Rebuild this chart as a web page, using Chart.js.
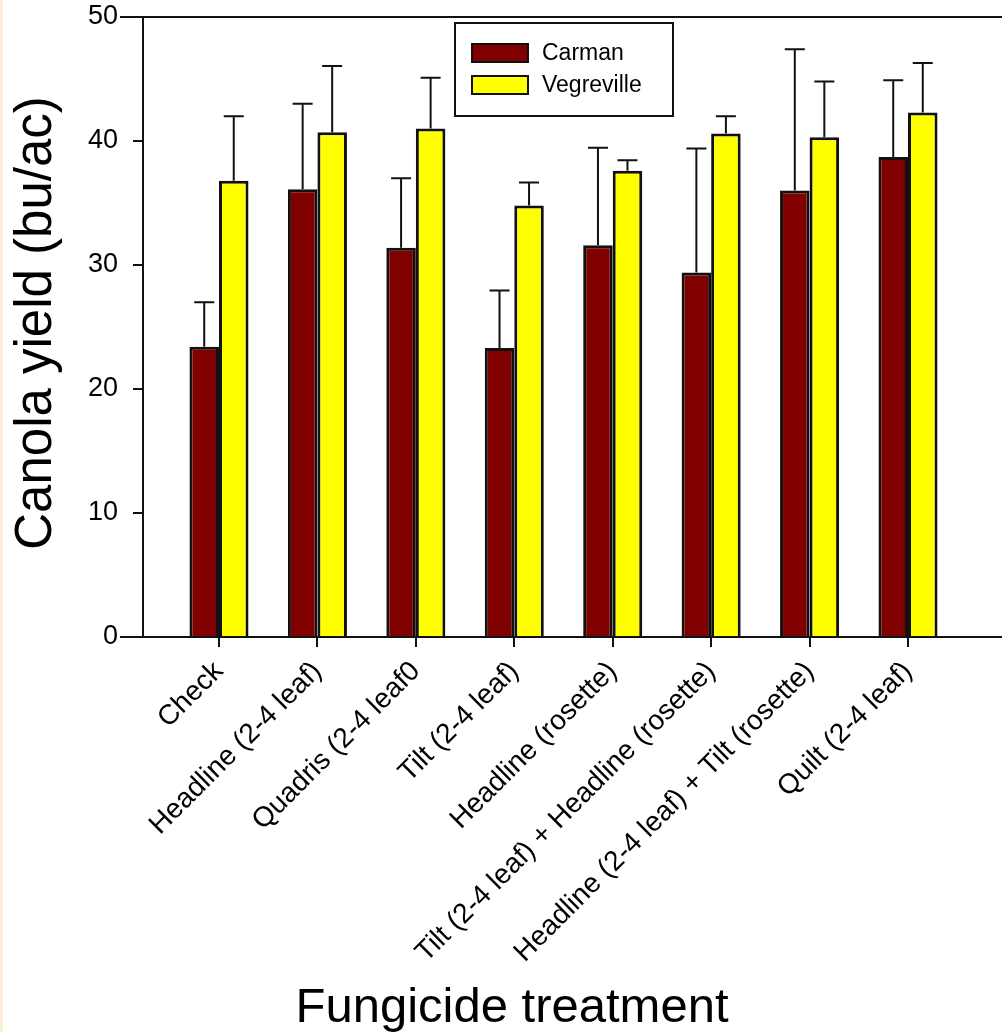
<!DOCTYPE html>
<html>
<head>
<meta charset="utf-8">
<script src="https://cdn.jsdelivr.net/npm/chart.js@4.4.1/dist/chart.umd.min.js"></script>
<style>
  body { margin: 0; background: #fff; }
  #wrap { position: relative; width: 1002px; height: 1032px; }
</style>
</head>
<body>
<div id="wrap"><canvas id="yieldChart"></canvas></div>
<script>
// Dados
const categories = [
    'Check',
    'Headline (2-4 leaf)',
    'Quadris (2-4 leaf0',
    'Tilt (2-4 leaf)',
    'Headline (rosette)',
    'Tilt (2-4 leaf) + Headline (rosette)',
    'Headline (2-4 leaf) + Tilt (rosette)',
    'Quilt (2-4 leaf)'
];
const carman = [23.4, 36.1, 31.4, 23.3, 31.6, 29.4, 36.0, 38.7];
const carmanErr = [3.6, 6.9, 5.6, 4.65, 7.85, 10.0, 11.4, 6.2];
const vegreville = [36.8, 40.7, 41.0, 34.8, 37.6, 40.6, 40.3, 42.3];
const vegrevilleErr = [5.2, 5.35, 4.1, 1.85, 0.85, 1.4, 4.5, 4.0];
const yTicks = [0, 10, 20, 30, 40, 50];

const FONT = "'Liberation Sans', Arial, sans-serif";
const INK = '#111';

// Barras de erro, eixos, legenda e títulos
const extras = {
    id: 'extras',
    beforeDraw(chart) {
        const ctx = chart.ctx;
        ctx.save();
        ctx.fillStyle = '#fff';
        ctx.fillRect(0, 0, chart.width, chart.height);
        ctx.fillStyle = '#fcefd8';
        ctx.fillRect(0, 0, 3, chart.height);
        ctx.restore();
    },
    afterDatasetsDraw(chart) {
        const ctx = chart.ctx;
        const y = chart.scales.y;
        const errs = [carmanErr, vegrevilleErr];
        ctx.save();
        ctx.strokeStyle = INK;
        ctx.lineWidth = 2;
        chart.data.datasets.forEach((ds, d) => {
            chart.getDatasetMeta(d).data.forEach((bar, i) => {
                const top = y.getPixelForValue(ds.data[i].y + errs[d][i]);
                ctx.beginPath();
                ctx.moveTo(bar.x, bar.y);
                ctx.lineTo(bar.x, top);
                ctx.moveTo(bar.x - 10, top);
                ctx.lineTo(bar.x + 10, top);
                ctx.stroke();
            });
        });
        ctx.restore();
    },
    afterDraw(chart) {
        const ctx = chart.ctx;
        const a = chart.chartArea;
        const y = chart.scales.y;
        const y0 = y.getPixelForValue(0);
        const y50 = y.getPixelForValue(50);
        ctx.save();
        ctx.strokeStyle = INK;
        ctx.lineWidth = 2;
        ctx.beginPath();
        ctx.moveTo(a.left - 23, y50); ctx.lineTo(chart.width, y50);
        ctx.moveTo(a.left - 23, y0); ctx.lineTo(chart.width, y0);
        ctx.moveTo(a.left, y50); ctx.lineTo(a.left, y0);
        ctx.stroke();

        // legenda
        ctx.lineWidth = 2;
        ctx.strokeRect(455, 23, 218, 93);
        chart.data.datasets.forEach((ds, d) => {
            const top = 44 + d * 32;
            ctx.fillStyle = ds.backgroundColor;
            ctx.fillRect(472, top, 56, 18);
            ctx.strokeRect(472, top, 56, 18);
            ctx.fillStyle = '#000';
            ctx.font = '23px ' + FONT;
            ctx.textAlign = 'left';
            ctx.textBaseline = 'middle';
            ctx.fillText(ds.label, 542, top + 10);
        });

        // títulos dos eixos
        ctx.fillStyle = '#000';
        ctx.font = '49px ' + FONT;
        ctx.textAlign = 'center';
        ctx.textBaseline = 'alphabetic';
        ctx.fillText('Fungicide treatment', 512, 1022);
        ctx.font = '51px ' + FONT;
        ctx.translate(51, (y0 + y50) / 2 - 4);
        ctx.rotate(-Math.PI / 2);
        ctx.fillText('Canola yield (bu/ac)', 0, 0);
        ctx.restore();
    }
};

const ctx = document.getElementById('yieldChart').getContext('2d');
const chart = new Chart(ctx, {
    type: 'bar',
    data: {
        datasets: [{
            label: 'Carman',
            data: carman.map((v, i) => ({ x: i, y: v })),
            backgroundColor: '#800000',
            borderColor: INK,
            borderWidth: 3,
            categoryPercentage: 0.6,
            barPercentage: 1
        }, {
            label: 'Vegreville',
            data: vegreville.map((v, i) => ({ x: i, y: v })),
            backgroundColor: '#ffff00',
            borderColor: INK,
            borderWidth: 3,
            categoryPercentage: 0.6,
            barPercentage: 1
        }]
    },
    options: {
        responsive: true,
        maintainAspectRatio: false,
        animation: false,
        layout: { padding: { top: 17, right: 0, left: 0, bottom: 0 } },
        plugins: {
            legend: { display: false },
            tooltip: { enabled: false }
        },
        scales: {
            x: {
                type: 'linear',
                offset: false,
                min: -0.772,
                max: 7.955,
                afterBuildTicks: scale => {
                    scale.ticks = categories.map((c, i) => ({ value: i }));
                },
                afterFit: scale => {
                    scale.height = 395;
                    scale.paddingLeft = 0;
                    scale.paddingRight = 0;
                },
                ticks: {
                    autoSkip: false,
                    minRotation: 45,
                    maxRotation: 45,
                    padding: 8,
                    color: '#000',
                    font: { family: FONT, size: 28 },
                    callback: v => categories[v]
                },
                grid: {
                    offset: false,
                    drawOnChartArea: false,
                    drawTicks: true,
                    tickLength: 10,
                    color: INK,
                    lineWidth: 2
                },
                border: { display: false }
            },
            y: {
                min: 0,
                max: 50,
                afterBuildTicks: scale => {
                    scale.ticks = yTicks.map(v => ({ value: v }));
                },
                afterFit: scale => {
                    scale.width = 143;
                    scale.paddingTop = 0;
                    scale.paddingBottom = 0;
                },
                ticks: {
                    padding: 15,
                    color: '#000',
                    font: { family: FONT, size: 27 }
                },
                grid: {
                    drawOnChartArea: false,
                    drawTicks: true,
                    tickLength: 10,
                    color: INK,
                    lineWidth: 2
                },
                border: { display: false }
            }
        }
    },
    plugins: [extras]
});
</script>
</body>
</html>
